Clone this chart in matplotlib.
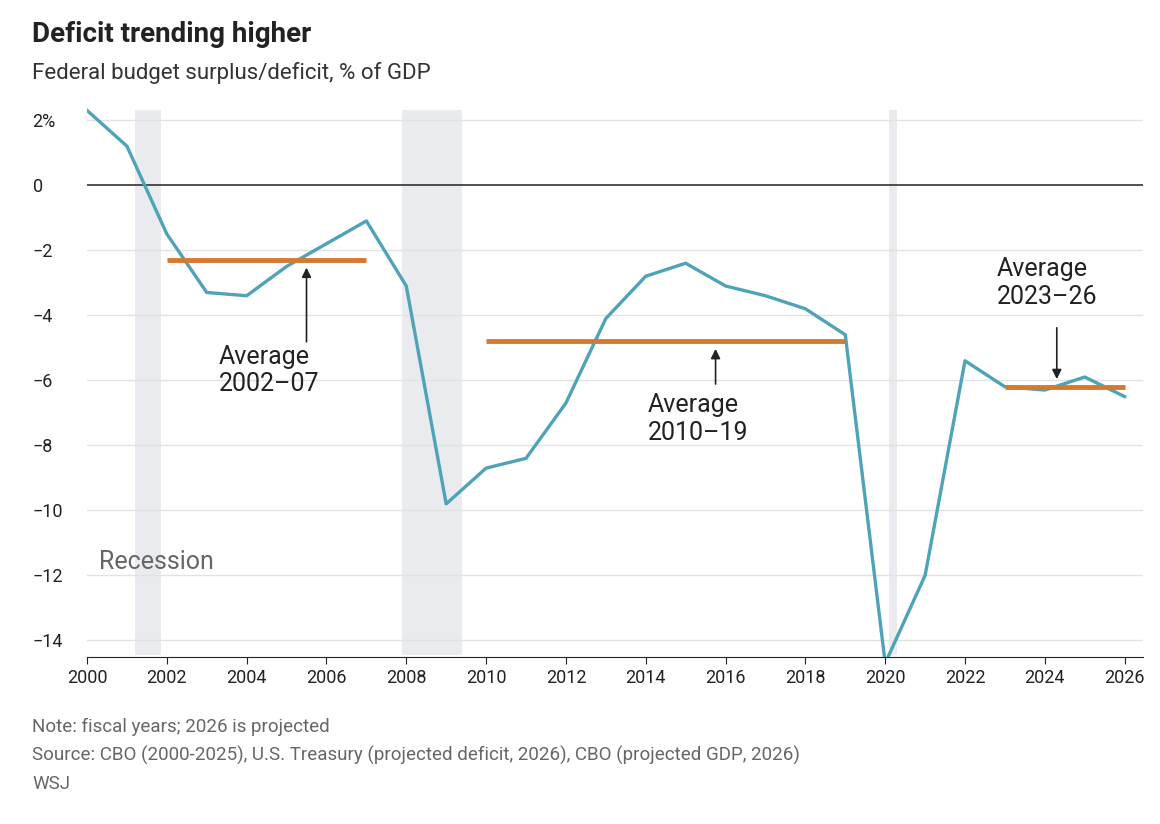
import matplotlib.pyplot as plt

years = list(range(2000, 2027))
deficit = [2.3, 1.2, -1.5, -3.3, -3.4, -2.5, -1.8, -1.1, -3.1, -9.8, -8.7, -8.4, -6.7,
           -4.1, -2.8, -2.4, -3.1, -3.4, -3.8, -4.6, -14.7, -12.0, -5.4, -6.2, -6.3, -5.9, -6.5]
recessions = [(2001.2, 2001.85), (2007.9, 2009.4), (2020.1, 2020.3)]
averages = [(2002, 2007, -2.3), (2010, 2019, -4.8), (2023, 2026, -6.2)]

plt.rcParams['font.family'] = ['Roboto', 'DejaVu Sans']
fig = plt.figure(figsize=(11.6, 8.24), dpi=100)
ax = fig.add_axes([0.075, 0.203, 0.91, 0.667])

for a, b in recessions:
    ax.fill_between([a, b], -14.45, 2.3, color="#e9ebee", lw=0, zorder=0)

ax.set_xlim(2000, 2026.45)
ax.set_ylim(-14.5, 2.4)
yt = list(range(-14, 3, 2))
ax.set_yticks(yt)
ax.set_yticklabels([f"{v}%" if v == 2 else ("0" if v == 0 else f"\u2212{abs(v)}") for v in yt])
ax.set_xticks(range(2000, 2027, 2))
for v in yt:
    if v != 0:
        ax.axhline(v, color="#e2e2e2", lw=1, zorder=1)
ax.axhline(0, color="#222222", lw=1.1, zorder=2)
for s in ["top", "right", "left"]:
    ax.spines[s].set_visible(False)
ax.spines["bottom"].set_color("#222222")
ax.tick_params(axis="y", length=0, labelsize=13, colors="#222222", pad=5)
ax.tick_params(axis="x", length=5, labelsize=13, colors="#222222")
for lab in ax.get_yticklabels():
    lab.set_horizontalalignment("left")
    lab.set_x(-0.045)

ax.plot(years, deficit, color="#4fa3b8", lw=2.4, zorder=3, solid_joinstyle="round")
for a, b, v in averages:
    ax.plot([a, b], [v, v], color="#d47a2f", lw=3.5, zorder=4, solid_capstyle="butt")

arrow = dict(arrowstyle="-|>", color="#222222", lw=1.2, mutation_scale=14)
tk = dict(fontsize=18, color="#222222", linespacing=1.2, ha="left")
ax.annotate("", xy=(2005.5, -2.45), xytext=(2005.5, -4.9), arrowprops=arrow, zorder=5)
ax.text(2003.3, -4.9, "Average\n2002\u201307", va="top", **tk)
ax.annotate("", xy=(2015.75, -4.95), xytext=(2015.75, -6.2), arrowprops=arrow, zorder=5)
ax.text(2014.05, -6.4, "Average\n2010\u201319", va="top", **tk)
ax.annotate("", xy=(2024.3, -6.05), xytext=(2024.3, -4.3), arrowprops=arrow, zorder=5)
ax.text(2022.8, -2.2, "Average\n2023\u201326", va="top", **tk)
ax.text(2000.3, -11.6, "Recession", fontsize=18, color="#666666", va="center")

fig.text(0.028, 0.958, "Deficit trending higher", fontsize=20, fontweight="bold", color="#222222", va="center")
fig.text(0.028, 0.912, "Federal budget surplus/deficit, % of GDP", fontsize=16, color="#333333", va="center")
fig.text(0.028, 0.118, "Note: fiscal years; 2026 is projected", fontsize=13.5, color="#666666", va="center")
fig.text(0.028, 0.083, "Source: CBO (2000-2025), U.S. Treasury (projected deficit, 2026), CBO (projected GDP, 2026)",
         fontsize=13.5, color="#666666", va="center")
fig.text(0.028, 0.048, "WSJ", fontsize=13.5, color="#666666", va="center")

fig.savefig("out.png", dpi=100)
